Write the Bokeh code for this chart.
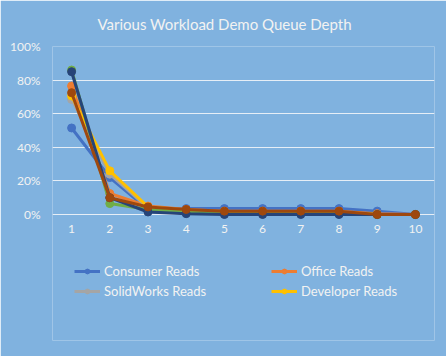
from bokeh.plotting import figure
from bokeh.models import Legend, LegendItem, FixedTicker, NumeralTickFormatter, Range1d
from bokeh.embed import file_html
from bokeh.resources import INLINE

queue_depth = [1, 2, 3, 4, 5, 6, 7, 8, 9, 10]
consumer_reads = [0.515, 0.22, 0.03, 0.035, 0.035, 0.035, 0.035, 0.035, 0.02, 0.0]
office_reads = [0.765, 0.125, 0.05, 0.03, 0.02, 0.02, 0.02, 0.02, 0.005, 0.0]
solidworks_reads = [0.685, 0.24, 0.04, 0.02, 0.01, 0.01, 0.01, 0.01, 0.0, 0.0]
developer_reads = [0.705, 0.26, 0.045, 0.025, 0.015, 0.015, 0.015, 0.015, 0.0, 0.0]
series6_reads = [0.86, 0.065, 0.03, 0.015, 0.01, 0.01, 0.01, 0.01, 0.0, 0.0]
series7_reads = [0.85, 0.10, 0.015, 0.005, 0.0, 0.0, 0.0, 0.0, 0.0, 0.0]
series8_reads = [0.725, 0.10, 0.045, 0.03, 0.02, 0.02, 0.02, 0.02, 0.0, 0.0]
y_ticks = [0, 0.2, 0.4, 0.6, 0.8, 1.0]

series = [
    ("Consumer Reads", consumer_reads, "#4472C4", True),
    ("Office Reads", office_reads, "#ED7D31", True),
    ("SolidWorks Reads", solidworks_reads, "#A5A5A5", True),
    ("Developer Reads", developer_reads, "#FFC000", True),
    ("Series 6", series6_reads, "#70AD47", False),
    ("Series 7", series7_reads, "#264478", False),
    ("Series 8", series8_reads, "#9E480E", False),
]

BG = "#80B2DF"
TXT = "#F2F2F2"
FONT = "Lato"

# frame extends below 0% (invisible, same colour) so the legend can sit inside it
p = figure(frame_width=382, frame_height=294, output_backend="svg", toolbar_location=None,
           x_range=Range1d(0.5, 10.5), y_range=Range1d(-0.75, 1.0),
           min_border_left=52, min_border_right=12, min_border_top=46, min_border_bottom=16,
           title="Various Workload Demo Queue Depth")
p.background_fill_color = BG
p.border_fill_color = BG
p.outline_line_color = None

p.title.align = "left"
p.title.offset = 45
p.title.text_color = TXT
p.title.text_font = FONT
p.title.text_font_size = "15px"
p.title.text_font_style = "normal"
p.title.standoff = 24
p.title.vertical_align = "top"

p.xaxis.ticker = FixedTicker(ticks=queue_depth)
p.xaxis.fixed_location = 0
p.yaxis.ticker = FixedTicker(ticks=y_ticks)
p.yaxis.formatter = NumeralTickFormatter(format="0%")
for ax in (p.xaxis, p.yaxis):
    ax.axis_line_color = None
    ax.major_tick_line_color = None
    ax.minor_tick_line_color = None
    ax.major_label_text_color = TXT
    ax.major_label_text_font = FONT
    ax.major_label_text_font_size = "12px"
p.xaxis.major_label_standoff = 4
p.yaxis.major_label_standoff = 6
p.xgrid.grid_line_color = None
p.ygrid.grid_line_color = "#E6EEF6"
p.ygrid.grid_line_width = 1

items = {}
for name, vals, color, show in series:
    r1 = p.line(queue_depth, vals, line_color=color, line_width=3)
    r2 = p.scatter(queue_depth, vals, size=8, fill_color=color, line_color=color)
    if show:
        items[name] = LegendItem(label=name, renderers=[r1, r2])

legend_order = ["Consumer Reads", "SolidWorks Reads", "Office Reads", "Developer Reads"]
legend = Legend(items=[items[n] for n in legend_order], ncols=2, background_fill_alpha=0,
                border_line_color=None, label_text_color=TXT, label_text_font=FONT,
                label_text_font_size="13px", glyph_width=26, glyph_height=12,
                label_standoff=4, label_width=163, spacing=4, padding=0, margin=0,
                location=(22, 41))
p.add_layout(legend, "center")

open("out.html", "w").write(file_html(p, INLINE))
